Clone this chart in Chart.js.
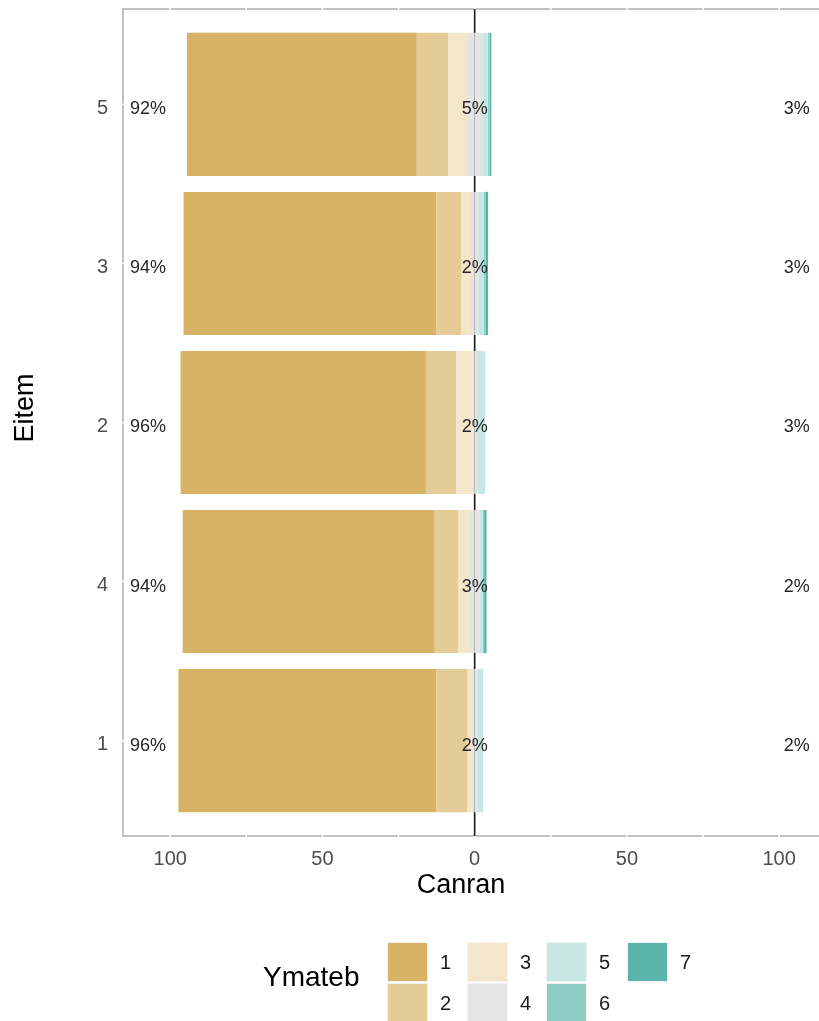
<!DOCTYPE html>
<html>
<head>
<meta charset="utf-8">
<script src="https://cdn.jsdelivr.net/npm/chart.js@4.4.1/dist/chart.umd.min.js"></script>
<style>
html,body{margin:0;padding:0;background:#fff;overflow:hidden;}
#wrap{width:819px;height:1021px;}
</style>
</head>
<body>
<div id="wrap"><canvas id="c" width="819" height="1021"></canvas></div>
<script>
// ---- data (items from top to bottom) ----
const items = ['5', '3', '2', '4', '1'];
const level1 = [75.5, 83.1, 80.6, 82.8, 84.8];
const level2 = [10.4, 8.2, 10.0, 7.8, 10.2];
const level3 = [6.1, 3.1, 5.2, 3.8, 1.2];
const level4 = [5.0, 2.4, 1.6, 3.0, 2.2];
const level5 = [1.8, 1.8, 2.4, 1.1, 1.4];
const level6 = [0.6, 0.7, 0.2, 0.5, 0.2];
const level7 = [0.6, 0.7, 0.0, 0.8, 0.0];
const leftPct = ['92%', '94%', '96%', '94%', '96%'];
const neutralPct = ['5%', '2%', '2%', '3%', '2%'];
const rightPct = ['3%', '3%', '3%', '2%', '2%'];
const xTicks = [-100, -50, 0, 50, 100];
const legendLabels = ['1', '2', '3', '4', '5', '6', '7'];
const colors = ['#D8B365', '#E5CB96', '#F3E6CA', '#E4E4E4', '#C7E7E3', '#8FCCC4', '#5AB4AC'];

const pts = (arr, sign) => arr.map((v, i) => ({ x: sign * v, y: i }));
const mk = (label, arr, sign, color) => ({
  label, data: pts(arr, sign), backgroundColor: color, borderWidth: 0
});
// negative stack: nearest-to-zero first
const datasets = [
  mk('4', level4.map(v => v / 2), -1, colors[3]),
  mk('3', level3, -1, colors[2]),
  mk('2', level2, -1, colors[1]),
  mk('1', level1, -1, colors[0]),
  mk('4', level4.map(v => v / 2), 1, colors[3]),
  mk('5', level5, 1, colors[4]),
  mk('6', level6, 1, colors[5]),
  mk('7', level7, 1, colors[6])
];

const FONT = '"Liberation Sans", Arial, sans-serif';

const decor = {
  id: 'decor',
  beforeDatasetsDraw(chart) {
    const { ctx, chartArea: a, scales: { x, y } } = chart;
    ctx.save();
    ctx.strokeStyle = '#C2C2C2';
    ctx.lineWidth = 2;
    ctx.beginPath();
    ctx.moveTo(a.right + 5, a.top); ctx.lineTo(a.left, a.top);
    ctx.lineTo(a.left, a.bottom); ctx.lineTo(a.right + 5, a.bottom);
    ctx.stroke();
    // white grid-line gaps in the frame
    ctx.strokeStyle = '#FFFFFF';
    ctx.lineWidth = 1.5;
    for (let v = -100; v <= 100; v += 25) {
      const px = x.getPixelForValue(v);
      ctx.beginPath();
      ctx.moveTo(px, a.top - 2); ctx.lineTo(px, a.top + 2);
      ctx.moveTo(px, a.bottom - 2); ctx.lineTo(px, a.bottom + 2);
      ctx.stroke();
    }
    items.forEach((_, i) => {
      const py = y.getPixelForValue(i);
      ctx.beginPath();
      ctx.moveTo(a.left - 2, py); ctx.lineTo(a.left + 2, py);
      ctx.stroke();
    });
    // zero line
    const z = x.getPixelForValue(0);
    ctx.strokeStyle = '#1A1A1A';
    ctx.lineWidth = 1.6;
    ctx.beginPath();
    ctx.moveTo(z, a.top); ctx.lineTo(z, a.bottom);
    ctx.stroke();
    ctx.restore();
  },
  afterDatasetsDraw(chart) {
    const { ctx, chartArea: a, scales: { x, y } } = chart;
    ctx.save();
    // percentage labels
    ctx.fillStyle = '#262626';
    ctx.font = '18px ' + FONT;
    ctx.textAlign = 'center';
    ctx.textBaseline = 'middle';
    items.forEach((_, i) => {
      const py = y.getPixelForValue(i) + 5;
      ctx.fillText(leftPct[i], x.getPixelForValue(-107.3), py);
      ctx.fillText(neutralPct[i], x.getPixelForValue(0), py);
      ctx.fillText(rightPct[i], x.getPixelForValue(105.8), py);
    });
    // axis titles
    ctx.fillStyle = '#000000';
    ctx.font = '27px ' + FONT;
    ctx.fillText('Canran', 461, 886);
    ctx.save();
    ctx.translate(26, 408);
    ctx.rotate(-Math.PI / 2);
    ctx.fillText('Eitem', 0, 0);
    ctx.restore();
    // legend
    ctx.textAlign = 'left';
    ctx.font = '28px ' + FONT;
    ctx.fillText('Ymateb', 263, 978);
    const colX = [388, 468, 547, 628];
    const rowY = [943, 984];
    ctx.font = '20px ' + FONT;
    legendLabels.forEach((lab, k) => {
      const c = Math.floor(k / 2), r = k % 2;
      const bx = colX[c], by = rowY[r];
      ctx.fillStyle = '#F2F2F2';
      ctx.fillRect(bx - 1, by - 1, 41, 40);
      ctx.fillStyle = colors[k];
      ctx.fillRect(bx, by, 39, 38);
      ctx.fillStyle = '#1A1A1A';
      ctx.fillText(lab, bx + 52, by + 20);
    });
    ctx.restore();
  }
};

new Chart(document.getElementById('c'), {
  type: 'bar',
  data: { datasets },
  plugins: [decor],
  options: {
    responsive: false,
    animation: false,
    devicePixelRatio: 1,
    indexAxis: 'y',
    layout: { padding: { top: 9, right: 0, bottom: 0, left: 0 } },
    datasets: { bar: { categoryPercentage: 1, barPercentage: 0.9 } },
    plugins: { legend: { display: false }, tooltip: { enabled: false } },
    scales: {
      x: {
        type: 'linear', stacked: true, min: -115.5, max: 113.1, offset: false,
        grid: { display: false, offset: false }, border: { display: false },
        afterBuildTicks: s => { s.ticks = xTicks.map(v => ({ value: v })); },
        afterFit: s => { s.height = 1021 - 836; s.paddingLeft = 0; s.paddingRight = 0; },
        ticks: {
          padding: 3, color: '#4D4D4D', font: { family: FONT, size: 20 },
          callback: v => String(Math.abs(v)), maxRotation: 0
        }
      },
      y: {
        type: 'linear', stacked: true, reverse: true, min: -0.6, max: 4.6, offset: false,
        grid: { display: false, offset: false }, border: { display: false },
        afterBuildTicks: s => { s.ticks = items.map((_, i) => ({ value: i })); },
        afterFit: s => { s.width = 123; s.paddingTop = 0; s.paddingBottom = 0; },
        ticks: {
          padding: 7, labelOffset: 4, color: '#4D4D4D', font: { family: FONT, size: 20 },
          callback: v => items[v]
        }
      }
    }
  }
});
</script>
</body>
</html>
